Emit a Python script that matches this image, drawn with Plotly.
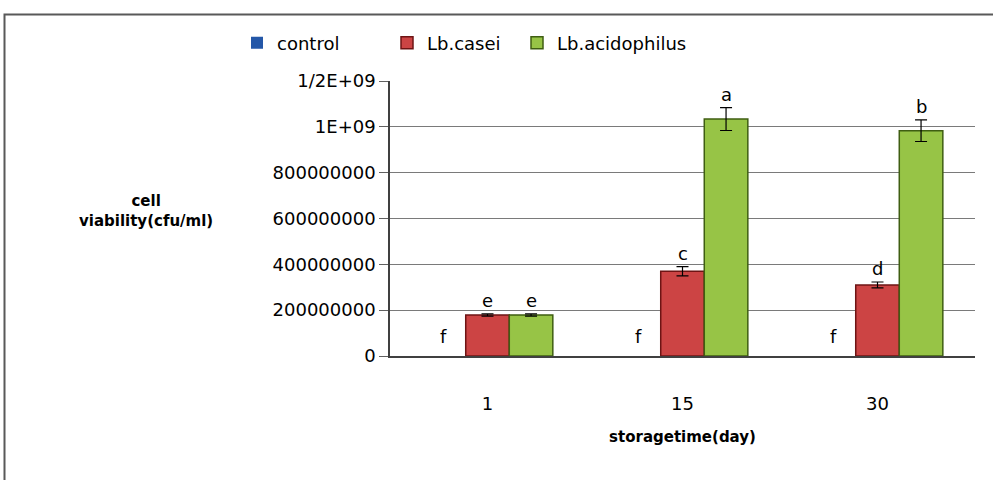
import plotly.graph_objects as go

days = ["1", "15", "30"]
series_names = ["control", "Lb.casei", "Lb.acidophilus"]
control_vals = [0, 0, 0]
casei_vals = [179e6, 370e6, 310e6]
acido_vals = [179e6, 1034e6, 983e6]
control_err = [0, 0, 0]
casei_err = [5e6, 20e6, 13e6]
acido_err = [5e6, 50e6, 47e6]
control_sig = ["f", "f", "f"]
casei_sig = ["e", "c", "d"]
acido_sig = ["e", "a", "b"]
y_tickvals = [0, 200e6, 400e6, 600e6, 800e6, 1000e6, 1200e6]
y_ticktext = ["0", "200000000", "400000000", "600000000", "800000000", "1E+09", "1/2E+09"]

colors = ["#2457A8", "#CC4444", "#97C446"]
borders = ["#10305E", "#6E1414", "#3F5E12"]
border_w = [0, 1.5, 1.5]

W, H = 993, 480
L, R, T, B = 390, 18, 81, 124
pw, ph = W - L - R, H - T - B
GAP = 0.33

fig = go.Figure()
all_vals = [control_vals, casei_vals, acido_vals]
all_err = [control_err, casei_err, acido_err]
all_sig = [control_sig, casei_sig, acido_sig]
legend_ids = ["legend", "legend2", "legend3"]
legend_px = [237, 387, 517]
for name, vals, err, c, bc, bw, lg in zip(series_names, all_vals, all_err, colors,
                                          borders, border_w, legend_ids):
    fig.add_trace(go.Bar(
        name=name, x=days, y=vals, legend=lg,
        marker=dict(color=c, line=dict(color=bc, width=bw)),
        error_y=dict(type="data", array=err, visible=True, color="#000000",
                     thickness=1.2, width=6) if any(err) else None,
    ))

legend_style = dict(orientation="h", xanchor="left", y=(356 - 43) / ph, yanchor="middle",
                    font=dict(size=18), itemwidth=30, bgcolor="rgba(0,0,0,0)")
fig.update_layout(
    barmode="group", bargap=GAP, bargroupgap=0,
    width=W, height=H, autosize=False,
    margin=dict(l=L, r=R, t=T, b=B),
    paper_bgcolor="white", plot_bgcolor="white",
    font=dict(family="DejaVu Sans", size=18, color="#000000"),
    showlegend=True,
    legend=dict(x=(legend_px[0] - L) / pw, **legend_style),
    legend2=dict(x=(legend_px[1] - L) / pw, **legend_style),
    legend3=dict(x=(legend_px[2] - L) / pw, **legend_style),
)
fig.update_xaxes(
    type="category", range=[-0.5, 2.5], showline=True, linecolor="#404040", linewidth=1.5,
    ticks="", ticklabelstandoff=31, showgrid=False,
    title=dict(text="<b>storagetime(day)</b>", font=dict(size=15), standoff=18),
    automargin=False,
)
fig.update_yaxes(
    range=[0, 1.2e9], tickvals=y_tickvals, ticktext=y_ticktext,
    showline=True, linecolor="#404040", linewidth=1.5,
    ticks="outside", ticklen=9, tickcolor="#606060",
    showgrid=True, gridcolor="#7a7a7a", gridwidth=1,
    zeroline=False, automargin=False,
)

# significance letters
offsets = [-1, 0, 1]
bar_w = (1 - GAP) / 3  # in category units
for sig, vals, err, off in zip(all_sig, all_vals, all_err, offsets):
    for i, (s, v, e) in enumerate(zip(sig, vals, err)):
        fig.add_annotation(x=i + off * bar_w, y=v + e, text=s, showarrow=False,
                           xref="x", yref="y", yanchor="bottom",
                           yshift=(7 if v == 0 else 1),
                           font=dict(size=18, color="#000000"))

# y-axis title (horizontal)
fig.add_annotation(xref="paper", yref="paper", x=(146 - L) / pw, y=(356 - 211) / ph,
                   text="<b>cell<br>viability(cfu/ml)</b>", showarrow=False,
                   xanchor="center", yanchor="middle", align="center",
                   font=dict(size=15, color="#000000"))

# outer frame
fig.add_shape(type="rect", xref="paper", yref="paper",
              x0=(4.5 - L) / pw, x1=(1010 - L) / pw,
              y0=(356 - 500) / ph, y1=(356 - 14.5) / ph,
              line=dict(color="#595959", width=2), fillcolor="rgba(0,0,0,0)", layer="below")

fig.write_html("out.html", config={"displayModeBar": False},
               post_script="document.body.style.margin='0';")
